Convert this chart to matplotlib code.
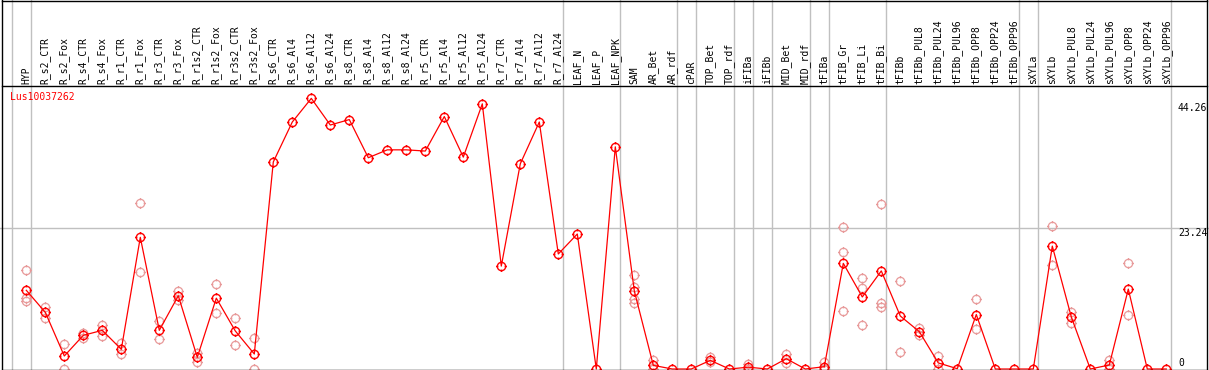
import matplotlib
matplotlib.use("Agg")
import matplotlib.pyplot as plt
from matplotlib.path import Path
from matplotlib.transforms import blended_transform_factory
import numpy as np

gene = "Lus10037262"

categories = ["HYP", "R_s2_CTR", "R_s2_Fox", "R_s4_CTR", "R_s4_Fox", "R_r1_CTR", "R_r1_Fox",
              "R_r3_CTR", "R_r3_Fox", "R_r1s2_CTR", "R_r1s2_Fox", "R_r3s2_CTR", "R_r3s2_Fox",
              "R_s6_CTR", "R_s6_Al4", "R_s6_Al12", "R_s6_Al24", "R_s8_CTR", "R_s8_Al4",
              "R_s8_Al12", "R_s8_Al24", "R_r5_CTR", "R_r5_Al4", "R_r5_Al12", "R_r5_Al24",
              "R_r7_CTR", "R_r7_Al4", "R_r7_Al12", "R_r7_Al24", "LEAF_N", "LEAF_P", "LEAF_NPK",
              "SAM", "AR_Bet", "AR_rdf", "cPAR", "TOP_Bet", "TOP_rdf", "iFIBa", "iFIBb",
              "MID_Bet", "MID_rdf", "tFIBa", "tFIB_Gr", "tFIB_Li", "tFIB_Bi", "tFIBb",
              "tFIBb_PUL8", "tFIBb_PUL24", "tFIBb_PUL96", "tFIBb_OPP8", "tFIBb_OPP24",
              "tFIBb_OPP96", "sXYLa", "sXYLb", "sXYLb_PUL8", "sXYLb_PUL24", "sXYLb_PUL96",
              "sXYLb_OPP8", "sXYLb_OPP24", "sXYLb_OPP96"]

means = [13.0, 9.36, 2.15, 5.56, 6.39, 3.25, 21.75, 6.39, 12.1, 1.93, 11.7, 6.28, 2.48,
         34.2, 40.8, 44.7, 40.3, 41.2, 34.9, 36.2, 36.2, 36.0, 41.7, 35.0, 43.8, 17.0, 33.9,
         40.8, 19.0,
         22.3, 0.0, 36.7, 12.9, 0.6, 0.0, 0.0, 1.43, 0.0, 0.3, 0.0, 1.7, 0.0, 0.38, 17.45,
         11.9, 16.2,
         8.75, 6.17, 1.0, 0.05, 9.0, 0.0, 0.0, 0.0, 20.3, 8.6, 0.0, 0.66, 13.2, 0.0, 0.0]

replicates = [[16.35, 11.7, 11.3], [10.3, 8.5], [4.2, 0.0], [5.9, 5.07], [7.27, 5.5],
              [4.24, 2.42], [27.4, 16.1], [7.93, 4.9], [12.9, 11.4], [2.59, 1.1],
              [14.0, 9.2], [8.5, 3.9], [5.07, 0.0],
              [], [], [], [], [], [], [], [], [], [], [], [], [], [], [], [],
              [], [], [],
              [15.5, 13.6, 11.5, 10.85], [1.43, 0.0], [], [], [2.0, 1.2], [], [0.9, 0.0], [],
              [2.4, 1.05], [], [1.2, 0.0], [23.4, 19.4, 9.6], [15.1, 13.3, 7.2],
              [27.3, 10.95, 10.2],
              [14.5, 2.75], [6.8, 5.6], [2.15, 0.0], [], [11.5, 6.55], [], [], [],
              [23.6, 17.1], [9.4, 7.65], [], [1.5, 0.0], [17.45, 8.9], [], []]

group_breaks = [-1, 0, 28, 31, 34, 35, 37, 38, 39, 41, 42, 45, 52, 53, 60]
grid_value = 23.24
right_labels = ["44.26", "23.24", "0"]

W, H = 1209, 370
fig = plt.figure(figsize=(W / 100, H / 100), dpi=100)
ax = fig.add_axes([0, 0, 1, 1])
ax.set_axis_off()

# pixel mapping: x_px = 26.3 + 19*i ; y_px(from top) = 369 - 6.054*v
ppx = 19.0
x0 = -26.3 / ppx
x1 = (W - 26.3) / ppx
ppv = 6.054
ax.set_xlim(x0, x1)
ax.set_ylim((369 - H) / ppv, 369 / ppv)

def fy(py):
    return 1 - py / H

def fx(px):
    return px / W

grey = "#c0c0c0"
for b in group_breaks:
    ax.axvline(b + 0.23, color=grey, lw=1.0, zorder=1)
ax.axhline(grid_value, color=grey, lw=1.0, zorder=1)

for (xa, ya, xb, yb) in [(1.5, 0.5, 1207, 0.5), (1.5, 85.5, 1207, 85.5), (1.5, 369.5, 1207, 369.5),
                         (1.5, 0, 1.5, 370), (1206.5, 0, 1206.5, 370)]:
    fig.add_artist(plt.Line2D([fx(xa), fx(xb)], [fy(ya), fy(yb)], color="black", lw=1.0,
                              transform=fig.transFigure))

circ = Path.unit_circle()
ticks = []
for (a, b) in [((0, 0.75), (0, 1.3)), ((0, -0.75), (0, -1.3)), ((0.75, 0), (1.3, 0)), ((-0.75, 0), (-1.3, 0))]:
    ticks.append(Path([a, b], [Path.MOVETO, Path.LINETO]))
marker = Path.make_compound_path(circ, *ticks)

pink = "#e89a9a"
red = "#ff0000"

rx = []
ry = []
for i, reps in enumerate(replicates):
    for v in reps:
        rx.append(i)
        ry.append(v)
ax.plot(rx, ry, linestyle="none", marker=marker, markersize=7.8, markerfacecolor="none",
        markeredgecolor=pink, markeredgewidth=0.9, zorder=2, clip_on=False)

xs = np.arange(len(categories))
ax.plot(xs, means, color=red, lw=0.9, zorder=3, clip_on=False)
ax.plot(xs, means, linestyle="none", marker=marker, markersize=7.8, markerfacecolor="none",
        markeredgecolor=red, markeredgewidth=1.0, zorder=4, clip_on=False)

trans = blended_transform_factory(ax.transData, ax.transAxes)
mono = "DejaVu Sans Mono"
for i, name in enumerate(categories):
    ax.text(i, fy(84), name, transform=trans, rotation=90, ha="center", va="bottom",
            fontsize=7, family=mono, color="black")

ax.text(fx(10), fy(97.5), gene, transform=fig.transFigure, ha="left", va="center",
        fontsize=7, family=mono, color=red)

for lab, py in zip(right_labels, [103.5, 227.5, 358.5]):
    ax.text(fx(1178), fy(py), lab, transform=fig.transFigure, ha="left", va="top",
            fontsize=7, family=mono, color="black")

fig.savefig("out.png", dpi=100)
